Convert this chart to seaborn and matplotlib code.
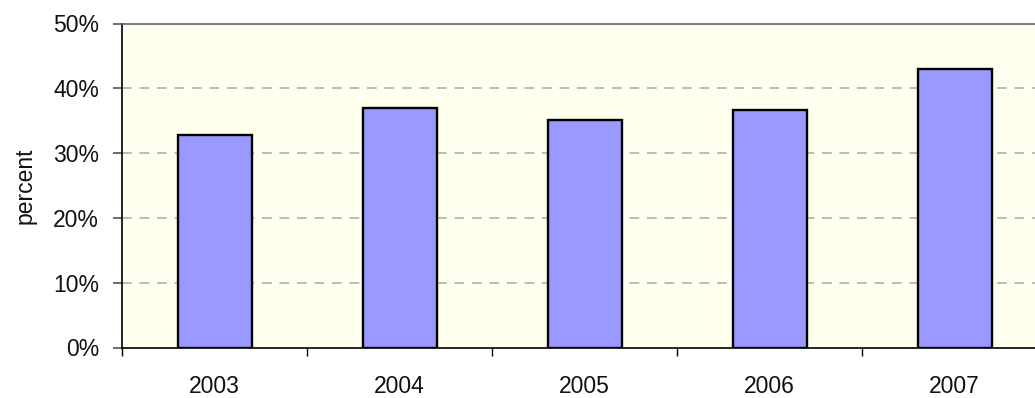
import pandas as pd
import seaborn as sns
import matplotlib.pyplot as plt
from matplotlib.ticker import PercentFormatter, FixedLocator

# datos
years = ['2003', '2004', '2005', '2006', '2007']
share = [0.328, 0.369, 0.351, 0.367, 0.430]
yticks = [0, 0.1, 0.2, 0.3, 0.4, 0.5]

df = pd.DataFrame({'year': years, 'share': share})

sns.set_style('white')
plt.rcParams['font.family'] = ['Liberation Sans', 'DejaVu Sans']

fig = plt.figure(figsize=(10.35, 3.98), dpi=100)
ax = fig.add_axes([122 / 1035, 1 - 347.5 / 398, 925 / 1035, 324 / 398])
ax.set_facecolor('#FFFFEE')

sns.barplot(data=df, x='year', y='share', color='#9999FF', width=0.4,
            edgecolor='black', linewidth=1.7, saturation=1, ax=ax)

ax.set_ylim(0, 0.5)
ax.set_xlim(-0.5, len(years) - 0.5)
ax.set_yticks(yticks)
ax.yaxis.set_major_formatter(PercentFormatter(1.0, decimals=0))
for y in yticks[1:-1]:
    ax.axhline(y, color='#BBBBBB', lw=1.4, ls=(0, (5, 4)), zorder=0)

# ticks entre categorias, etiquetas en el centro
ax.xaxis.set_major_locator(FixedLocator([i - 0.5 for i in range(len(years) + 1)]))
ax.set_xticklabels([])
ax.xaxis.set_minor_locator(FixedLocator(list(range(len(years)))))
ax.set_xticklabels(years, minor=True)
ax.tick_params(axis='x', which='major', direction='out', length=6, width=1, color='black', bottom=True)
ax.tick_params(axis='x', which='minor', length=0, pad=20, labelsize=16.5, colors='#111111')
ax.tick_params(axis='y', direction='out', length=6.5, width=1.2, color='#555555', left=True,
               labelsize=16.5, pad=10, labelcolor='#111111')

ax.set_xlabel('')
ax.set_ylabel('percent', fontsize=16.5, color='#111111', labelpad=12)

for s in ['left', 'bottom']:
    ax.spines[s].set_color('black')
    ax.spines[s].set_linewidth(1.2)
ax.spines['top'].set_color('#666666')
ax.spines['top'].set_linewidth(1.2)
ax.spines['right'].set_visible(False)

plt.savefig('out.png', dpi=100)
